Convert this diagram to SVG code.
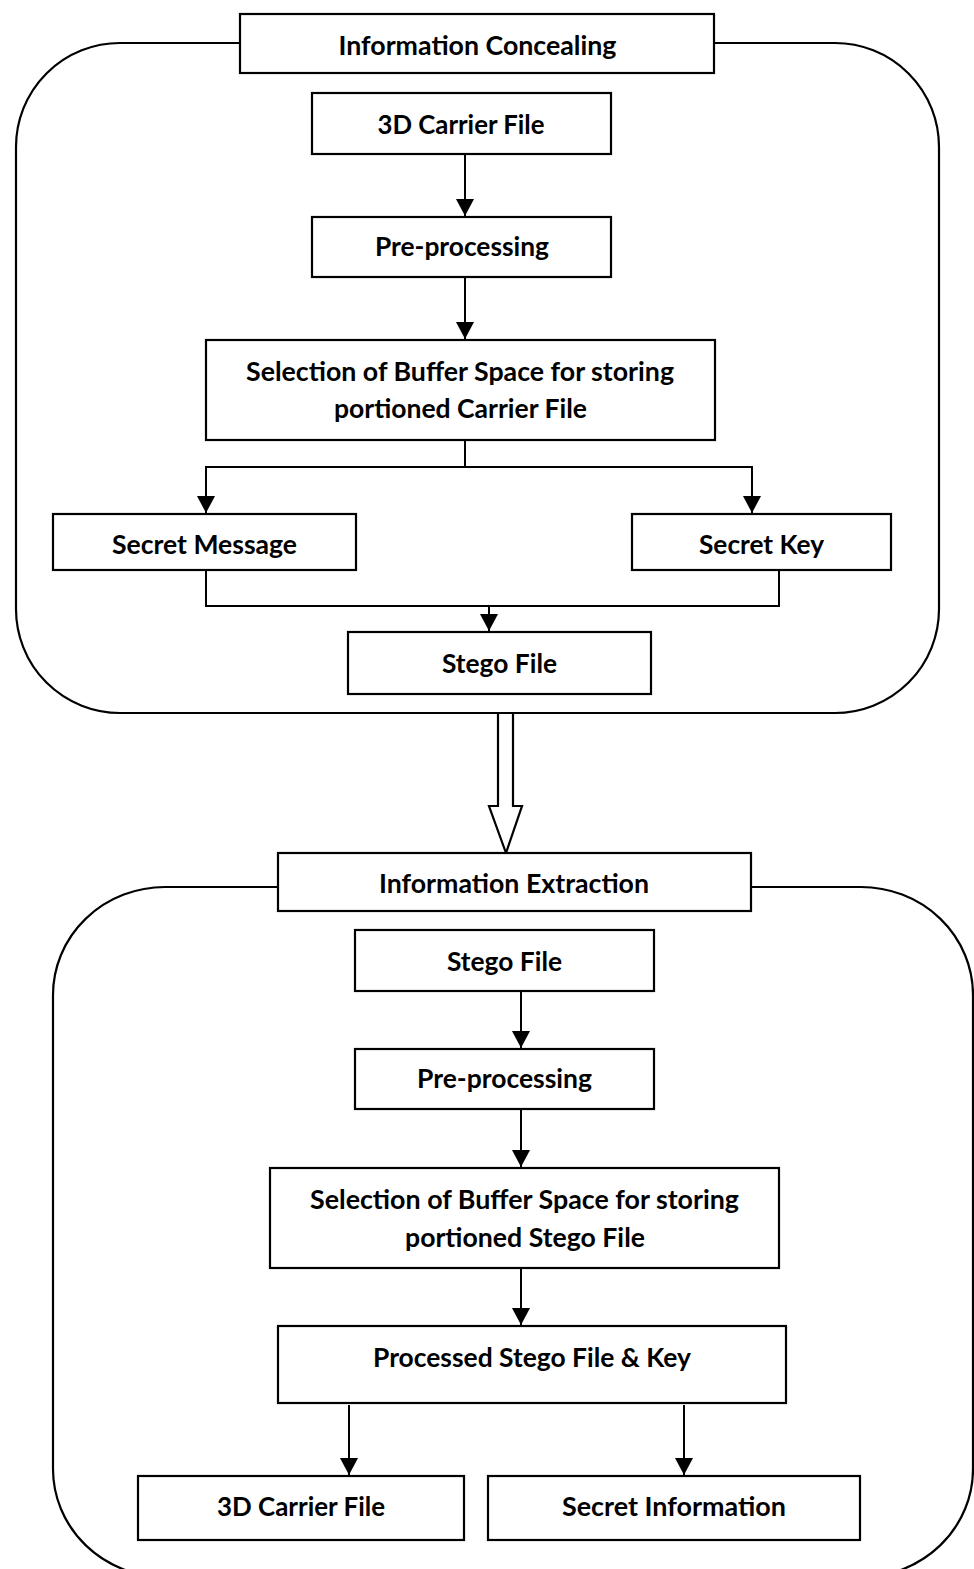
<svg xmlns="http://www.w3.org/2000/svg" width="974" height="1569" viewBox="0 0 974 1569">
  <style>
    .frame { fill: none; stroke: #000; stroke-width: 2.2; }
    .box { fill: #fff; stroke: #000; stroke-width: 2.2; }
    .lbl { font-family: Lato, "Open Sans", "Liberation Sans", sans-serif; font-weight: 700; font-size: 26px; fill: #000; text-anchor: middle; }
    .wire { fill: none; stroke: #000; stroke-width: 2; }
  </style>
  <defs>
    <marker id="tri" markerUnits="userSpaceOnUse" markerWidth="19" markerHeight="19" refX="17" refY="9" orient="auto" viewBox="0 0 19 19">
      <path d="M0,0 L17,9 L0,18 Z" fill="#000"/>
    </marker>
  </defs>

  <rect id="concealing-frame" class="frame" x="16" y="43" width="923" height="670" rx="104" ry="104"/>
  <rect id="extraction-frame" class="frame" x="53" y="887" width="920" height="690" rx="112" ry="108"/>

  <g id="connectors">
    <path class="wire" d="M465,154 V216" marker-end="url(#tri)"/>
    <path class="wire" d="M465,277 V339" marker-end="url(#tri)"/>
    <path class="wire" d="M465,440 V467 H206 V513" marker-end="url(#tri)"/>
    <path class="wire" d="M465,467 H752 V513" marker-end="url(#tri)"/>
    <path class="wire" d="M206,570 V606 H779 V570"/>
    <path class="wire" d="M489,606 V631" marker-end="url(#tri)"/>
    <polygon class="box" points="498,713 498,806 489,806 506,853 522,806 513,806 513,713"/>
    <path class="wire" d="M521,991 V1048" marker-end="url(#tri)"/>
    <path class="wire" d="M521,1109 V1167" marker-end="url(#tri)"/>
    <path class="wire" d="M521,1268 V1325" marker-end="url(#tri)"/>
    <path class="wire" d="M349,1405 V1475" marker-end="url(#tri)"/>
    <path class="wire" d="M684,1405 V1475" marker-end="url(#tri)"/>
  </g>

  <g id="title-concealing">
    <rect class="box" x="240" y="14" width="474" height="59"/>
    <text class="lbl" x="477.5" y="55" textLength="278" lengthAdjust="spacingAndGlyphs">Information Concealing</text>
  </g>
  <g id="carrier-file">
    <rect class="box" x="312" y="93" width="299" height="61"/>
    <text class="lbl" x="461" y="134" textLength="167" lengthAdjust="spacingAndGlyphs">3D Carrier File</text>
  </g>
  <g id="preprocessing-1">
    <rect class="box" x="312" y="217" width="299" height="60"/>
    <text class="lbl" x="462" y="256" textLength="174" lengthAdjust="spacingAndGlyphs">Pre-processing</text>
  </g>
  <g id="buffer-selection-1">
    <rect class="box" x="206" y="340" width="509" height="100"/>
    <text class="lbl" x="460" y="381" textLength="428" lengthAdjust="spacingAndGlyphs">Selection of Buffer Space for storing</text>
    <text class="lbl" x="460.5" y="418" textLength="253" lengthAdjust="spacingAndGlyphs">portioned Carrier File</text>
  </g>
  <g id="secret-message">
    <rect class="box" x="53" y="514" width="303" height="56"/>
    <text class="lbl" x="204.5" y="554" textLength="185" lengthAdjust="spacingAndGlyphs">Secret Message</text>
  </g>
  <g id="secret-key">
    <rect class="box" x="632" y="514" width="259" height="56"/>
    <text class="lbl" x="761.5" y="554" textLength="125" lengthAdjust="spacingAndGlyphs">Secret Key</text>
  </g>
  <g id="stego-file-1">
    <rect class="box" x="348" y="632" width="303" height="62"/>
    <text class="lbl" x="499.5" y="673" textLength="115" lengthAdjust="spacingAndGlyphs">Stego File</text>
  </g>

  <g id="title-extraction">
    <rect class="box" x="278" y="853" width="473" height="58"/>
    <text class="lbl" x="514" y="893" textLength="270" lengthAdjust="spacingAndGlyphs">Information Extraction</text>
  </g>
  <g id="stego-file-2">
    <rect class="box" x="355" y="930" width="299" height="61"/>
    <text class="lbl" x="504.5" y="971" textLength="115" lengthAdjust="spacingAndGlyphs">Stego File</text>
  </g>
  <g id="preprocessing-2">
    <rect class="box" x="355" y="1049" width="299" height="60"/>
    <text class="lbl" x="504.5" y="1088" textLength="175" lengthAdjust="spacingAndGlyphs">Pre-processing</text>
  </g>
  <g id="buffer-selection-2">
    <rect class="box" x="270" y="1168" width="509" height="100"/>
    <text class="lbl" x="524.5" y="1209" textLength="429" lengthAdjust="spacingAndGlyphs">Selection of Buffer Space for storing</text>
    <text class="lbl" x="525" y="1247" textLength="240" lengthAdjust="spacingAndGlyphs">portioned Stego File</text>
  </g>
  <g id="processed-stego">
    <rect class="box" x="278" y="1326" width="508" height="77"/>
    <text class="lbl" x="532" y="1367" textLength="318" lengthAdjust="spacingAndGlyphs">Processed Stego File &amp; Key</text>
  </g>
  <g id="carrier-file-out">
    <rect class="box" x="138" y="1476" width="326" height="64"/>
    <text class="lbl" x="301" y="1516" textLength="168" lengthAdjust="spacingAndGlyphs">3D Carrier File</text>
  </g>
  <g id="secret-information">
    <rect class="box" x="488" y="1476" width="372" height="64"/>
    <text class="lbl" x="674" y="1516" textLength="224" lengthAdjust="spacingAndGlyphs">Secret Information</text>
  </g>
</svg>
